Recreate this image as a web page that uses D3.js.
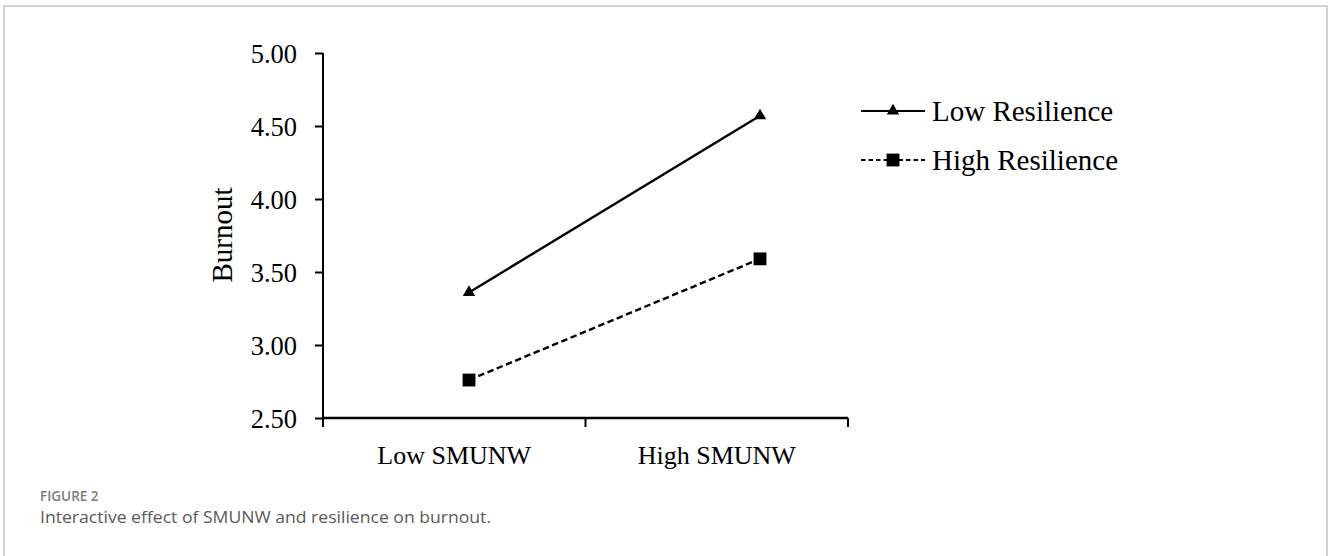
<!DOCTYPE html>
<html>
<head>
<meta charset="utf-8">
<script src="https://cdn.jsdelivr.net/npm/d3@7"></script>
<style>
    body { margin: 0; background: #fff; }
    svg { display: block; }
    .serif { font-family: "Liberation Serif", "Times New Roman", serif; fill: #000; }
    .caption { font-family: "Open Sans", "Noto Sans", sans-serif; }
</style>
</head>
<body>
<div id="chart"></div>
<script>
// --- Data ---
const categories = ['Low SMUNW', 'High SMUNW'];
const lowResilience = [3.36, 4.57];
const highResilience = [2.76, 3.59];
const yTicks = [2.5, 3.0, 3.5, 4.0, 4.5, 5.0];
const seriesNames = ['Low Resilience', 'High Resilience'];

const width = 1328, height = 556;

const svg = d3.select('#chart')
    .append('svg')
    .attr('width', width)
    .attr('height', height);

// frame of the figure panel
svg.append('path')
    .attr('d', `M4,${height} V6 H1327 V${height}`)
    .attr('fill', 'none')
    .attr('stroke', '#c4c4c4')
    .attr('stroke-width', 1.5);

// --- Scales ---
const y = d3.scaleLinear().domain([2.5, 5]).range([418, 53]);
const xBand = d3.scaleBand().domain(categories).range([323, 848]);
const xPoint = d3.scalePoint().domain(categories).range([469, 760]);

// y axis
const yAxis = svg.append('g')
    .attr('transform', 'translate(323,0)')
    .call(d3.axisLeft(y).tickValues(yTicks).tickFormat(d3.format('.2f')).tickSize(8).tickPadding(18));
yAxis.select('.domain').attr('stroke-width', 2).attr('d', `M0,${y(5)}V${y(2.5) + 9}`);
yAxis.selectAll('.tick line').attr('stroke-width', 2);
yAxis.selectAll('.tick text')
    .attr('class', 'serif')
    .attr('font-size', 26.5)
    .attr('dy', '0.34em');

// x axis: labels centred in bands, ticks at band edges
const xAxis = svg.append('g')
    .attr('transform', `translate(0,${y(2.5)})`)
    .call(d3.axisBottom(xBand).tickSize(0).tickPadding(28));
xAxis.select('.domain').attr('stroke-width', 2.5).attr('d', `M323,0H${xBand.range()[1]}`);
xAxis.selectAll('.tick text')
    .attr('class', 'serif')
    .attr('font-size', 26)
    .attr('dy', '0.71em');

xAxis.selectAll('.edge')
    .data(categories)
    .enter()
    .append('line')
    .attr('x1', d => xBand(d) + xBand.bandwidth())
    .attr('x2', d => xBand(d) + xBand.bandwidth())
    .attr('y1', 0)
    .attr('y2', 9)
    .attr('stroke', '#000')
    .attr('stroke-width', 2);

// y axis title
svg.append('text')
    .attr('class', 'serif')
    .attr('font-size', 29)
    .attr('text-anchor', 'middle')
    .attr('transform', 'translate(232,235) rotate(-90)')
    .text('Burnout');

// --- Series ---
const series = [
    { name: seriesNames[0], values: lowResilience, dash: null, symbol: d3.symbolTriangle, size: 66 },
    { name: seriesNames[1], values: highResilience, dash: '6.5,3.5', symbol: d3.symbolSquare, size: 165 }
];

const line = d3.line()
    .x((d, i) => xPoint(categories[i]))
    .y(d => y(d));

series.forEach(s => {
    svg.append('path')
        .datum(s.values)
        .attr('fill', 'none')
        .attr('stroke', '#000')
        .attr('stroke-width', 2.4)
        .attr('stroke-dasharray', s.dash)
        .attr('d', line);

    svg.selectAll(null)
        .data(s.values)
        .enter()
        .append('path')
        .attr('d', d3.symbol().type(s.symbol).size(s.size))
        .attr('transform', (d, i) => `translate(${xPoint(categories[i])},${y(d)})`)
        .attr('fill', '#000');
});

// --- Legend ---
const legend = svg.append('g').attr('transform', 'translate(861,111)');
series.forEach((s, i) => {
    const row = legend.append('g').attr('transform', `translate(0,${i * 49})`);
    row.append('line')
        .attr('x1', 0).attr('x2', 64)
        .attr('y1', 0).attr('y2', 0)
        .attr('stroke', '#000')
        .attr('stroke-width', 2.2)
        .attr('stroke-dasharray', s.dash ? '4.5,3' : null);
    row.append('path')
        .attr('d', d3.symbol().type(s.symbol).size(s.size))
        .attr('transform', 'translate(32,0)')
        .attr('fill', '#000');
    row.append('text')
        .attr('class', 'serif')
        .attr('font-size', 29)
        .attr('x', 71)
        .attr('y', 10)
        .text(s.name);
});

// --- Caption ---
svg.append('text')
    .attr('class', 'caption')
    .attr('x', 40).attr('y', 501)
    .attr('font-size', 13.5)
    .attr('font-weight', 600)
    .attr('fill', '#7a7a7a')
    .text('FIGURE 2');

svg.append('text')
    .attr('class', 'caption')
    .attr('x', 40).attr('y', 523)
    .attr('font-size', 17)
    .attr('fill', '#5a5a5a')
    .attr('textLength', 451)
    .attr('lengthAdjust', 'spacingAndGlyphs')
    .text('Interactive effect of SMUNW and resilience on burnout.');
</script>
</body>
</html>
